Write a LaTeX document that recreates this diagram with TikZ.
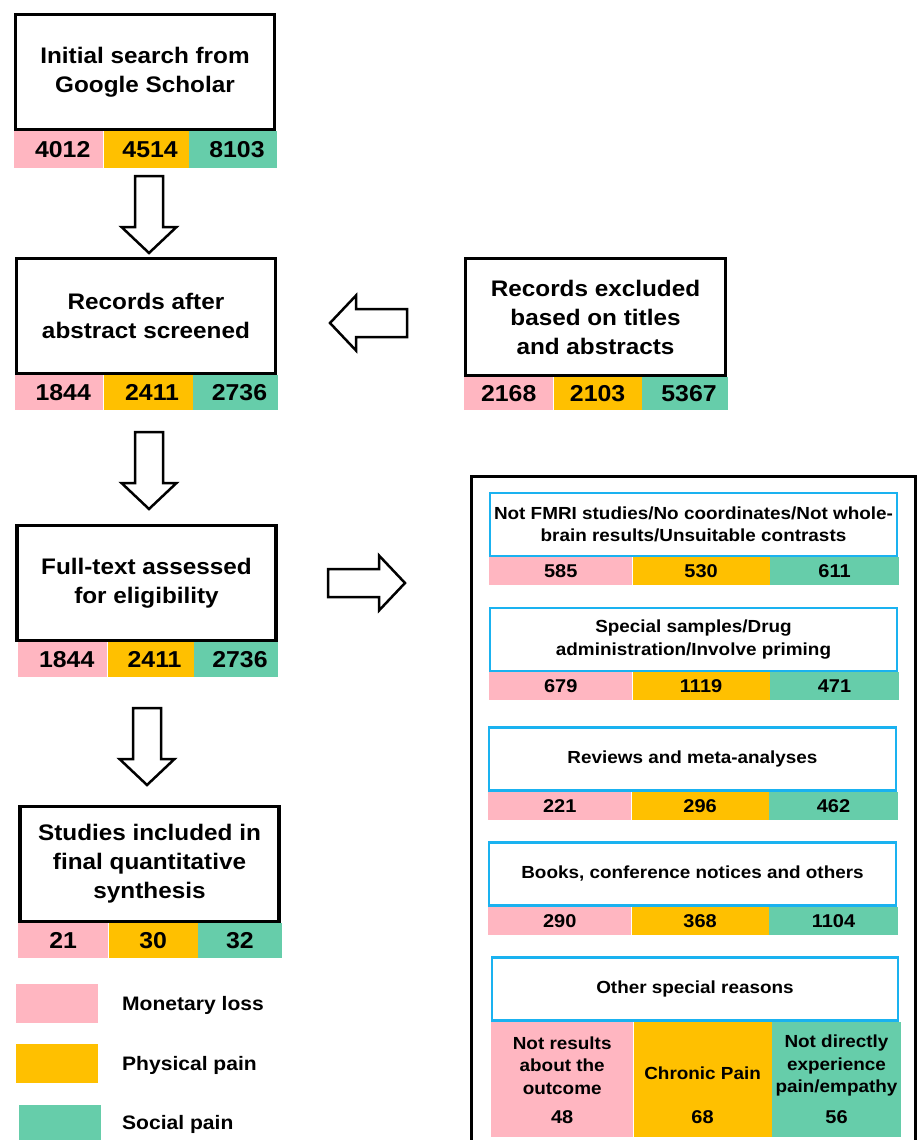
\documentclass[tikz,border=0pt]{standalone}
\usepackage{fontspec}
\setmainfont{Liberation Sans}[FakeStretch=1.08]
\usepackage{tikz}
\usetikzlibrary{calc,positioning}

\definecolor{lossc}{HTML}{FFB6C1}
\definecolor{physc}{HTML}{FFC000}
\definecolor{socc}{HTML}{66CDAA}
\definecolor{framec}{HTML}{1AB2F0}

\tikzset{
  stage/.style={draw, line width=3.5pt, fill=white, align=center, inner sep=0pt,
    minimum width=259, minimum height=115, font=\bfseries\fontsize{22.5}{29}\selectfont},
  reason/.style={draw=framec, line width=2.5pt, fill=white, align=center, inner sep=0pt,
    minimum width=407, minimum height=63, font=\bfseries\fontsize{17.5}{22.5}\selectfont},
  lseg/.style={fill=#1, inner sep=0pt, minimum height=35, anchor=north west,
    font=\bfseries\fontsize{23}{25}\selectfont},
  rseg/.style={fill=#1, inner sep=0pt, minimum height=28, anchor=north west,
    font=\bfseries\fontsize{18.5}{21}\selectfont},
  note/.style={align=center, inner sep=0pt, font=\bfseries\fontsize{17.5}{22.5}\selectfont},
  hollow/.style={draw, line width=2.5pt, fill=white, line join=miter},
  key/.style={fill=#1, inner sep=0pt, minimum width=82, minimum height=39},
  keytext/.style={inner sep=0pt, anchor=west, font=\bfseries\fontsize{19.5}{23}\selectfont}
}

\newcommand\blockarrow[2]{%
  \draw[hollow, shift={(#1)}, rotate=#2] (0,-14) -- (51,-14) -- (51,-27.5) -- (77,0)
    -- (51,27.5) -- (51,14) -- (0,14) -- cycle;}
\newcommand\nudge[1]{\hspace*{8pt}#1}

\begin{document}
\begin{tikzpicture}[x=1pt,y=-1pt]
\useasboundingbox (0,0) rectangle (917,1140);
\clip (0,0) rectangle (917,1140);

% left column
\node[stage] (init) at (145,72) {Initial search from\\Google Scholar};
\node[lseg=lossc, minimum width=89, minimum height=37] (init1) at (14,131) {\nudge{4012}};
\node[lseg=physc, minimum width=85, minimum height=37, right=0pt of init1] (init2) {\nudge{4514}};
\node[lseg=socc, minimum width=88, minimum height=37, right=0pt of init2] (init3) {\nudge{8103}};

\node[stage] (scr) at (146,316) {Records after\\abstract screened};
\node[lseg=lossc, minimum width=88] (scr1) at (15,375) {\nudge{1844}};
\node[lseg=physc, minimum width=89, right=0pt of scr1] (scr2) {\nudge{2411}};
\node[lseg=socc, minimum width=85, right=0pt of scr2] (scr3) {\nudge{2736}};

\node[stage] (full) at (146.5,583) {Full-text assessed\\for eligibility};
\node[lseg=lossc, minimum width=89] (full1) at (18,642) {\nudge{1844}};
\node[lseg=physc, minimum width=86, right=0pt of full1] (full2) {\nudge{2411}};
\node[lseg=socc, minimum width=84, right=0pt of full2] (full3) {\nudge{2736}};

\node[stage] (incl) at (149.5,864) {Studies included in\\final quantitative\\synthesis};
\node[lseg=lossc, minimum width=90] (incl1) at (18,923) {21};
\node[lseg=physc, minimum width=89, right=0pt of incl1] (incl2) {30};
\node[lseg=socc, minimum width=84, right=0pt of incl2] (incl3) {32};

% excluded by title/abstract
\node[stage, minimum width=260, minimum height=117] (titl) at (595.5,317)
  {Records excluded\\based on titles\\and abstracts};
\node[lseg=lossc, minimum width=89, minimum height=33] (titl1) at (464,377) {2168};
\node[lseg=physc, minimum width=88, minimum height=33, right=0pt of titl1] (titl2) {2103};
\node[lseg=socc, minimum width=86, minimum height=33, right=0pt of titl2] (titl3) {\nudge{5367}};

% arrows
\coordinate (a1) at (149,176);
\coordinate (a2) at (149,432);
\coordinate (a3) at (147,708);
\coordinate (a4) at (407,323);
\coordinate (a5) at (328,583);
\blockarrow{a1}{-90}
\blockarrow{a2}{-90}
\blockarrow{a3}{-90}
\blockarrow{a4}{180}
\blockarrow{a5}{0}

% full-text exclusions
\node[draw, line width=3pt, inner sep=0pt, minimum width=444, minimum height=690,
  anchor=north west] (excl) at (469.5,474.5) {};

\node[reason] (fmri) at (693.5,524.5) {Not FMRI studies/No coordinates/Not whole-\\brain results/Unsuitable contrasts};
\node[rseg=lossc, minimum width=143] (fmri1) at (489,557) {585};
\node[rseg=physc, minimum width=137, right=0pt of fmri1] (fmri2) {530};
\node[rseg=socc, minimum width=129, right=0pt of fmri2] (fmri3) {611};

\node[reason] (samp) at (693.5,639.5) {Special samples/Drug\\administration/Involve priming};
\node[rseg=lossc, minimum width=143] (samp1) at (489,672) {679};
\node[rseg=physc, minimum width=137, right=0pt of samp1] (samp2) {1119};
\node[rseg=socc, minimum width=129, right=0pt of samp2] (samp3) {471};

\node[reason] (revw) at (692.5,759) {Reviews and meta-analyses};
\node[rseg=lossc, minimum width=143] (revw1) at (488,792) {221};
\node[rseg=physc, minimum width=137, right=0pt of revw1] (revw2) {296};
\node[rseg=socc, minimum width=129, right=0pt of revw2] (revw3) {462};

\node[reason] (book) at (692.5,874) {Books, conference notices and others};
\node[rseg=lossc, minimum width=143] (book1) at (488,907) {290};
\node[rseg=physc, minimum width=137, right=0pt of book1] (book2) {368};
\node[rseg=socc, minimum width=129, right=0pt of book2] (book3) {1104};

\node[reason, minimum width=406] (oth) at (695,989) {Other special reasons};
\node[rseg=lossc, minimum width=142, minimum height=115] (oth1) at (491,1022) {};
\node[rseg=physc, minimum width=138, minimum height=115, right=0pt of oth1] (oth2) {};
\node[rseg=socc, minimum width=129, minimum height=115, right=0pt of oth2] (oth3) {};
\node[note] (oth1t) at ([yshift=14pt]oth1.center) {Not results\\about the\\outcome};
\node[note] (oth2t) at ([yshift=6.5pt]oth2.center) {Chronic Pain};
\node[note] (oth3t) at ([yshift=14pt]oth3.center) {Not directly\\experience\\pain/empathy};
\node[note, font=\bfseries\fontsize{18.5}{21}\selectfont] (oth1n) at ([yshift=-37.5pt]oth1.center) {48};
\node[note, font=\bfseries\fontsize{18.5}{21}\selectfont] (oth2n) at ([yshift=-37.5pt]oth2.center) {68};
\node[note, font=\bfseries\fontsize{18.5}{21}\selectfont] (oth3n) at ([yshift=-37.5pt]oth3.center) {56};

% legend
\node[key=lossc] (kloss) at (57,1003.5) {};
\node[key=physc] (kphys) at (57,1063.5) {};
\node[key=socc, minimum height=42] (ksoc) at (59.5,1126) {};
\node[keytext] (tloss) at (122,1005) {Monetary loss};
\node[keytext] (tphys) at (122,1065) {Physical pain};
\node[keytext] (tsoc) at (122,1124) {Social pain};
\end{tikzpicture}
\end{document}
